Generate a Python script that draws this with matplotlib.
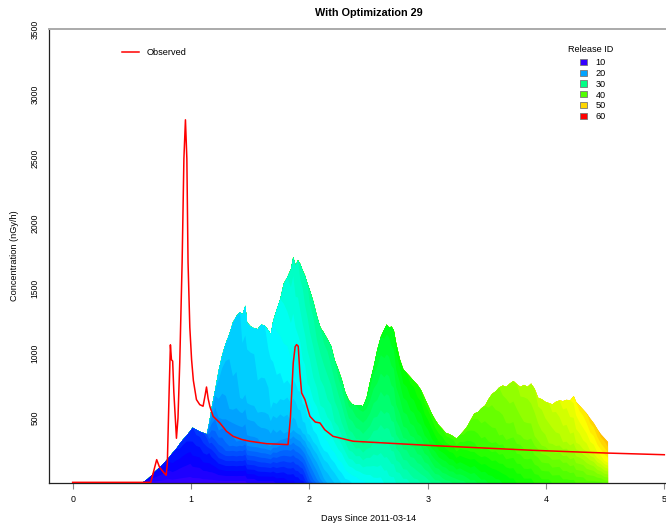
import numpy as np
import matplotlib
matplotlib.use('Agg')
import matplotlib.pyplot as plt
from matplotlib.colors import hsv_to_rgb
from matplotlib.lines import Line2D
from matplotlib.patches import Patch

plt.rcParams['font.family'] = ['Liberation Sans', 'DejaVu Sans']

# ---------------- data ----------------
days = [0.57, 0.60, 0.63, 0.66, 0.69, 0.72, 0.75, 0.78, 0.81, 0.84, 0.87, 0.90, 0.93, 0.96, 0.99, 1.01, 1.04, 1.07, 1.10, 1.13,
        1.15, 1.17, 1.20, 1.23, 1.26, 1.29, 1.32, 1.35, 1.38, 1.41, 1.43, 1.455, 1.47, 1.50, 1.53, 1.56, 1.59, 1.62, 1.65, 1.67,
        1.69, 1.72, 1.75, 1.78, 1.81, 1.84, 1.86, 1.88, 1.90, 1.92, 1.94, 1.96, 1.98, 2.00, 2.03, 2.06, 2.09, 2.12, 2.15, 2.18,
        2.21, 2.24, 2.27, 2.30, 2.33, 2.36, 2.39, 2.42, 2.45, 2.48, 2.51, 2.54, 2.57, 2.60, 2.63, 2.65, 2.67, 2.69, 2.71, 2.73,
        2.76, 2.79, 2.82, 2.85, 2.88, 2.91, 2.94, 2.97, 3.00, 3.03, 3.06, 3.09, 3.12, 3.15, 3.18, 3.21, 3.24, 3.27, 3.30, 3.33,
        3.36, 3.39, 3.42, 3.45, 3.48, 3.51, 3.54, 3.57, 3.60, 3.63, 3.66, 3.69, 3.72, 3.75, 3.78, 3.81, 3.84, 3.87, 3.90, 3.93,
        3.96, 3.99, 4.02, 4.05, 4.08, 4.11, 4.14, 4.17, 4.20, 4.23, 4.25, 4.28, 4.31, 4.34, 4.37, 4.40, 4.43, 4.46, 4.49, 4.52]

total = [0, 15, 35, 60, 90, 115, 140, 170, 200, 235, 265, 305, 340, 370, 405, 430, 415, 400, 390, 380,
         470, 580, 720, 870, 990, 1080, 1150, 1240, 1290, 1320, 1300, 1370, 1240, 1210, 1195, 1190, 1225, 1215, 1180, 1150,
         1250, 1340, 1420, 1540, 1590, 1650, 1745, 1680, 1720, 1690, 1640, 1600, 1540, 1490, 1400, 1290, 1200, 1160, 1110, 1060,
         950, 880, 800, 700, 640, 610, 600, 605, 595, 660, 790, 900, 1030, 1130, 1190, 1225, 1200, 1210, 1180, 1080,
         960, 880, 850, 820, 790, 760, 720, 660, 600, 540, 490, 450, 420, 390, 380, 365, 345, 375, 405, 440,
         490, 540, 550, 580, 600, 650, 690, 710, 740, 755, 745, 770, 790, 765, 745, 760, 745, 770, 730, 660,
         650, 630, 620, 610, 630, 640, 635, 645, 640, 675, 630, 600, 570, 540, 500, 465, 420, 380, 350, 320]

# release ID seen at the bottom, at 1/4 height, at 1/2 height and at the top of each column
id_bottom = [10, 10, 10, 10, 10, 10, 10, 10, 10, 10, 10, 10, 10, 10, 10, 10, 10, 10, 10, 10,
             10, 10, 10, 10, 10, 10, 10, 10, 10, 10, 10, 10, 10.5, 10.5, 10.5, 11, 11, 11, 11, 11,
             11, 11.5, 11.5, 11.5, 12, 12, 12, 12.5, 12.5, 13, 13, 14, 15, 16, 17, 18, 19, 20, 20.5, 21,
             21.5, 22, 22.5, 23, 23, 23.5, 23.5, 24, 24, 24.5, 24.5, 25, 25, 25, 25.5, 25.5, 26, 26, 26, 26.5,
             26.5, 27, 27, 27.5, 28, 28, 28.5, 28.5, 29, 29.5, 30, 30, 30.5, 31, 31, 31.5, 31.5, 32, 32, 32.5,
             33, 33, 33.5, 34, 34, 34.5, 34.5, 35, 35, 35.5, 35.5, 36, 36, 36.5, 36.5, 37, 37, 37, 37.5, 37.5,
             38, 38, 38, 38.5, 38.5, 38.5, 39, 39, 39, 39, 39.5, 39.5, 39.5, 40, 40, 40, 40, 40, 40.5, 40.5]

id_quarter = [10.5, 10.5, 10.5, 10.5, 10.75, 10.75, 10.75, 10.75, 10.75, 11, 11, 11, 11, 11, 11, 11.25, 11.25, 11.25, 11.5, 11.5,
              12, 12.5, 13.5, 15, 16, 17, 17.5, 18, 18.5, 18.5, 18.5, 18.5, 19, 19, 19, 19, 19.5, 19.5, 19.5, 19.5,
              19.5, 20, 20, 20.5, 20.5, 21, 21, 21, 21.5, 21.5, 22, 22, 22.5, 22.5, 23, 23, 23.5, 24, 24, 24.5,
              24.5, 25, 25, 25.5, 26, 26, 26.5, 26.5, 27, 27, 27.5, 27.5, 28, 28, 28.5, 28.5, 28.5, 29, 29, 29.5,
              29.5, 30, 30, 30.5, 30.5, 31, 31, 31.5, 31.5, 32, 32.5, 32.5, 33, 33, 33.5, 33.5, 34, 34, 34.5, 35,
              35.5, 35.5, 36, 36.5, 36.5, 37, 37.5, 37.5, 38, 38, 38.5, 38.5, 38.5, 39, 39, 39.5, 39.5, 39.5, 40, 40,
              40.5, 40.5, 40.5, 41, 41, 41, 41.5, 41.5, 42, 42, 42.5, 42.5, 42.5, 43, 43, 43, 43.5, 43.5, 44, 44]

id_middle = [11, 11, 11, 11, 11.5, 11.5, 11.5, 11.5, 11.5, 12, 12, 12, 12, 12, 12, 12.5, 12.5, 12.5, 13, 13,
             13.5, 15, 17, 19, 19.5, 20, 20.5, 21, 21, 21.5, 21.5, 21.5, 21.5, 21.5, 21.5, 22, 22, 22, 22, 22.5,
             22.5, 23, 23, 23.5, 23.5, 24, 24, 24, 24.5, 24.5, 25, 25, 25.5, 25.5, 26, 26, 26.5, 26.5, 27, 27,
             27.5, 27.5, 28, 28, 28.5, 28.5, 29, 29, 29.5, 29.5, 30, 30, 30.5, 30.5, 31, 31, 31, 31.5, 31.5, 32,
             32, 32.5, 32.5, 33, 33, 33.5, 33.5, 34, 34, 34.5, 34.5, 35, 35, 35, 35.5, 35.5, 36, 36, 36.5, 37,
             37.5, 38, 38.5, 39, 39, 39.5, 40, 40, 40.5, 40.5, 41, 41, 41, 41.5, 41.5, 42, 42, 42, 42.5, 42.5,
             43, 43, 43.5, 43.5, 44, 44, 44.5, 44.5, 45, 45, 45.5, 45.5, 46, 46, 46.5, 46.5, 47, 47, 47.5, 47.5]

id_top = [11.5, 12, 12, 12.5, 12.5, 13, 13, 13, 13, 13.5, 13.5, 14, 14, 14, 14.5, 14.5, 15, 15, 15.5, 16,
          20, 21, 21, 22, 22, 22, 22, 22.5, 22.5, 22.5, 23, 23, 23, 23, 23, 23.5, 23.5, 23.5, 24, 24,
          24.5, 25, 25.5, 26, 26.5, 27, 27, 27.5, 27.5, 28, 28, 28.5, 28.5, 29, 29, 29.5, 29.5, 30, 30, 30.5,
          30.5, 31, 31, 31.5, 32, 32, 32.5, 33, 33, 33.5, 34, 34, 34.5, 34.5, 35, 35, 35, 35.5, 35.5, 36,
          36, 36.5, 36.5, 37, 37, 37.5, 37.5, 38, 38, 38, 38.5, 38.5, 38.5, 39, 39, 39, 39.5, 39.5, 40, 40,
          40.5, 41, 41, 41.5, 41.5, 42, 42, 42.5, 42.5, 43, 43, 43.5, 43.5, 43.5, 44, 44, 44, 44.5, 44.5, 45,
          45, 45.5, 45.5, 46, 46, 46.5, 47, 47, 47.5, 48, 48.5, 49, 49, 49.5, 50, 50, 50.5, 51, 51, 51.5]

obs_days = [0.0, 0.60, 0.66, 0.69, 0.71, 0.735, 0.77, 0.79, 0.80, 0.815, 0.826, 0.835, 0.845, 0.855, 0.877, 0.89,
            0.905, 0.925, 0.94, 0.953, 0.965, 0.975, 0.99, 1.005, 1.02, 1.046, 1.074, 1.102, 1.12, 1.131, 1.145,
            1.159, 1.187, 1.244, 1.30, 1.356, 1.43, 1.497, 1.64, 1.72, 1.82, 1.84, 1.864, 1.88, 1.892, 1.906,
            1.92, 1.935, 1.963, 2.005, 2.05, 2.09, 2.13, 2.20, 2.37, 3.05, 3.89, 4.51, 5.0]
obs_values = [5, 5, 5, 110, 180, 120, 80, 60, 150, 700, 1065, 950, 940, 700, 345, 500,
              930, 1700, 2500, 2800, 2500, 1700, 1200, 950, 790, 643, 604, 592, 680, 740, 650,
              592, 514, 463, 399, 360, 335, 322, 303, 300, 296, 500, 926, 1050, 1067, 1055,
              850, 694, 643, 514, 470, 463, 411, 360, 322, 288, 252, 231, 218]

legend_ids = [10, 20, 30, 40, 50, 60]
x_ticks = [0, 1, 2, 3, 4, 5]
y_ticks = [500, 1000, 1500, 2000, 2500, 3000, 3500]

title = "With Optimization 29"
x_label = "Days Since 2011-03-14"
y_label = "Concentration (nGy/h)"


def release_color(k):
    h = 0.7 * (60 - k) / 50.0
    h = min(max(h, 0.0), 0.83)
    return hsv_to_rgb((h, 1.0, 1.0))


def cum_frac(b, lo, q, mid, hi):
    return np.where(b <= lo, 0.0,
           np.where(b <= q, 0.25 * (b - lo) / (q - lo),
           np.where(b <= mid, 0.25 + 0.25 * (b - q) / (mid - q),
           np.where(b <= hi, 0.5 + 0.5 * (b - mid) / (hi - mid), 1.0))))


x = np.array(days)
T = np.array(total, dtype=float)
lo = np.array(id_bottom, dtype=float)
qq = np.array(id_quarter, dtype=float)
mid = np.array(id_middle, dtype=float)
hi = np.array(id_top, dtype=float)

W, H = 666, 527
fig = plt.figure(figsize=(W / 100, H / 100), dpi=100)
ax = fig.add_axes([49 / W, 44 / H, 639 / W, 454 / H])

k_min = int(np.floor(lo.min()))
k_max = int(np.ceil(hi.max()))
for k in range(k_max, k_min - 1, -1):
    upper = T * cum_frac(k + 0.5, lo, qq, mid, hi)
    ax.fill_between(x, 0, upper, color=release_color(k), linewidth=0, zorder=1)

ax.plot(obs_days, obs_values, color='#ff0000', lw=1.1, zorder=3, solid_joinstyle='round')

ax.set_xlim(-0.2, 5.2)
ax.set_ylim(0, 3500)
ax.set_xticks(x_ticks)
ax.set_xticklabels([str(v) for v in x_ticks])
ax.set_yticks(y_ticks)
ax.set_yticklabels([str(v) for v in y_ticks], rotation=90, va='center')
ax.tick_params(axis='x', length=4, width=0.8, color='#888888', pad=5, labelsize=6.4)
ax.tick_params(axis='y', length=0, pad=7, labelsize=6.2)

ax.spines['right'].set_visible(False)
ax.spines['left'].set_color('#222222')
ax.spines['bottom'].set_color('#222222')
ax.spines['left'].set_linewidth(0.9)
ax.spines['bottom'].set_linewidth(0.9)
ax.spines['top'].set_color('#aaaaaa')
ax.spines['top'].set_linewidth(1.4)

ax.set_title(title, fontsize=7.8, fontweight='bold', pad=9)
ax.set_xlabel(x_label, fontsize=6.6, labelpad=7)
ax.set_ylabel(y_label, fontsize=6.6, labelpad=8)

leg1 = ax.legend([Line2D([0], [0], color='#ff0000', lw=1.1)], ['Observed'],
                 loc='upper left', bbox_to_anchor=(122 / W, 1 - 48 / H), bbox_transform=fig.transFigure,
                 frameon=False, fontsize=6.6, handlelength=1.9, handletextpad=0.8,
                 borderpad=0, borderaxespad=0)
ax.add_artist(leg1)

fig.text(591 / W, 1 - 49 / H, 'Release ID', fontsize=6.6, ha='center', va='center')
handles = [Patch(facecolor=release_color(k), edgecolor='#777777', linewidth=0.6) for k in legend_ids]
leg2 = ax.legend(handles, [str(k) for k in legend_ids],
                 loc='upper left', bbox_to_anchor=(580 / W, 1 - 58 / H), bbox_transform=fig.transFigure,
                 frameon=False, fontsize=6.6, handlelength=0.8, handleheight=0.65,
                 handletextpad=0.9, labelspacing=0.2, borderpad=0, borderaxespad=0)

fig.savefig('out.png', dpi=100)
